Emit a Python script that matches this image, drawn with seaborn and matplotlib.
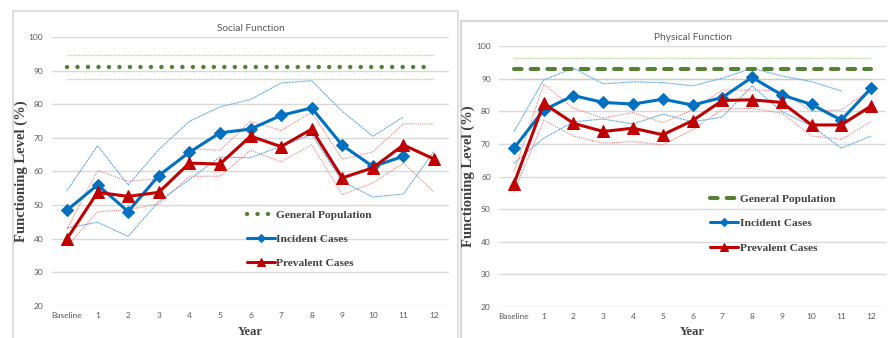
import numpy as np
import pandas as pd
import matplotlib
matplotlib.use("Agg")
import matplotlib.pyplot as plt
from matplotlib.patches import Rectangle
import seaborn as sns

# ---------------- data ----------------
years = ["Baseline", "1", "2", "3", "4", "5", "6", "7", "8", "9", "10", "11", "12"]
nan = np.nan

# Social Function
soc_gen = [91.2] * 13
soc_gen_hi = [94.6] * 13
soc_gen_lo = [87.6] * 13
soc_inc = [48.5, 56.0, 48.1, 58.8, 65.7, 71.5, 72.6, 76.7, 78.9, 67.8, 61.5, 64.5, nan]
soc_inc_hi = [54.3, 67.7, 56.0, 66.5, 74.9, 79.2, 81.4, 86.3, 87.0, 77.9, 70.5, 76.2, nan]
soc_inc_lo = [43.2, 44.9, 40.7, 51.1, 57.6, 64.3, 64.1, 67.5, 71.0, 57.1, 52.4, 53.3, 66.0]
soc_prev = [40.0, 53.8, 52.6, 53.8, 62.5, 62.2, 70.5, 67.4, 72.6, 58.1, 61.1, 67.9, 63.7]
soc_prev_hi = [42.9, 60.3, 57.1, 57.8, 66.8, 66.3, 74.9, 72.2, 77.6, 63.7, 65.8, 74.2, 74.1]
soc_prev_lo = [37.8, 48.0, 48.7, 50.3, 58.6, 58.6, 66.3, 62.9, 68.0, 53.1, 56.6, 62.5, 53.9]

# Physical Function
phy_gen = [93.0] * 13
phy_gen_hi = [96.2] * 13
phy_gen_lo = [89.9] * 13
phy_inc = [68.7, 80.4, 84.8, 82.7, 82.2, 83.7, 81.9, 84.2, 90.4, 85.0, 82.1, 77.3, 87.0]
phy_inc_hi = [73.8, 89.6, 93.2, 88.4, 89.0, 88.8, 87.8, 90.1, 93.2, 90.8, 89.1, 86.2, nan]
phy_inc_lo = [64.1, 71.7, 76.8, 77.6, 76.1, 79.1, 76.8, 78.2, 87.8, 79.9, 75.5, 68.7, 72.4]
phy_prev = [57.8, 82.4, 76.3, 73.8, 74.8, 72.8, 77.1, 83.3, 83.5, 82.7, 75.8, 75.8, 81.6]
phy_prev_hi = [61.5, 88.3, 80.9, 77.9, 79.6, 76.5, 80.4, 86.5, 86.5, 86.3, 79.9, 80.4, 86.7]
phy_prev_lo = [55.1, 77.3, 72.4, 70.2, 70.7, 69.7, 74.3, 80.6, 80.9, 79.4, 72.4, 71.4, 76.8]

titles = ["Social Function", "Physical Function"]
yticks = [20, 30, 40, 50, 60, 70, 80, 90, 100]

# ---------------- style ----------------
sns.set_style("white")
plt.rcParams["font.family"] = ["Lato", "DejaVu Sans"]

BLUE = "#0070C0"
RED = "#C00000"
GREEN = "#548235"
LBLUE = "#6aaee6"
LRED = "#f07f7f"
LGREEN = "#a9d18e"
GRID = "#d9d9d9"
TXT = "#595959"
LEG = "#404040"

W, H = 888, 338
fig = plt.figure(figsize=(W / 100, H / 100), dpi=100)

# panel frames
fig.patches.append(Rectangle((12.5 / W, -0.01), (458 - 12.5) / W, (338 - 11) / H + 0.01,
                             transform=fig.transFigure, facecolor="none",
                             edgecolor=GRID, lw=1.2, zorder=0))
fig.patches.append(Rectangle((461 / W, -0.01), 0.5, (338 - 21) / H + 0.01,
                             transform=fig.transFigure, facecolor="none",
                             edgecolor=GRID, lw=1.5, zorder=0))


def px_rect(x0, x1, ytop, ybot):
    return [x0 / W, (H - ybot) / H, (x1 - x0) / W, (ybot - ytop) / H]


ax1 = fig.add_axes(px_rect(51.7, 449.3, 37, 306))
ax2 = fig.add_axes(px_rect(499.1, 885.9, 46, 307))

panels = [
    (ax1, soc_gen, soc_gen_hi, soc_gen_lo, soc_inc, soc_inc_hi, soc_inc_lo,
     soc_prev, soc_prev_hi, soc_prev_lo, "dots"),
    (ax2, phy_gen, phy_gen_hi, phy_gen_lo, phy_inc, phy_inc_hi, phy_inc_lo,
     phy_prev, phy_prev_hi, phy_prev_lo, "dash"),
]

xs = np.arange(len(years))

for i, (ax, gen, gen_hi, gen_lo, inc, inc_hi, inc_lo, prev, prev_hi, prev_lo, gstyle) in enumerate(panels):
    ax.set_zorder(3)
    ax.patch.set_alpha(0)
    # confidence-band lines
    sns.lineplot(x=xs, y=gen_hi, ax=ax, color=LGREEN, lw=1.0, linestyle=(0, (0.6, 0.6)), zorder=2)
    sns.lineplot(x=xs, y=gen_lo, ax=ax, color=LGREEN, lw=1.0, linestyle=(0, (0.6, 0.6)), zorder=2)
    sns.lineplot(x=xs, y=inc_hi, ax=ax, color=LBLUE, lw=0.8, linestyle=(0, (2, 0.6)), zorder=2)
    sns.lineplot(x=xs, y=inc_lo, ax=ax, color=LBLUE, lw=0.8, linestyle=(0, (2, 0.6)), zorder=2)
    sns.lineplot(x=xs, y=prev_hi, ax=ax, color=LRED, lw=0.8, linestyle=(0, (1, 1)), zorder=2)
    sns.lineplot(x=xs, y=prev_lo, ax=ax, color=LRED, lw=0.8, linestyle=(0, (1, 1)), zorder=2)

    # general population
    if gstyle == "dots":
        sns.lineplot(x=xs, y=gen, ax=ax, color=GREEN, lw=3.2,
                     linestyle=(0, (0.01, 2.35)), dash_capstyle="round",
                     label="General Population", zorder=3)
    else:
        sns.lineplot(x=xs, y=gen, ax=ax, color=GREEN, lw=2.9,
                     linestyle=(0, (1.9, 2.24)), dash_capstyle="round",
                     label="General Population", zorder=3)
    # main series
    sns.lineplot(x=xs, y=inc, ax=ax, color=BLUE, lw=2.2, marker="D", markersize=6,
                 markeredgecolor=BLUE, label="Incident Cases", zorder=4)
    sns.lineplot(x=xs, y=prev, ax=ax, color=RED, lw=2.2, marker="^", markersize=8,
                 markeredgecolor=RED, label="Prevalent Cases", zorder=5)

    ax.set_xlim(-0.5, len(years) - 0.5)
    ax.set_ylim(20, 100)
    ax.set_yticks(yticks)
    ax.set_xticks(xs)
    ax.set_xticklabels(years)
    for s in ax.spines.values():
        s.set_visible(False)
    ax.yaxis.grid(True, color=GRID, lw=1.0)
    ax.xaxis.grid(False)
    ax.set_axisbelow(True)
    ax.tick_params(axis="both", length=0, labelsize=6, labelcolor=TXT)
    ax.tick_params(axis="y", pad=6)
    ax.tick_params(axis="x", pad=4)
    ax.set_xlabel("Year", family=["Liberation Serif"], fontweight="bold",
                  fontsize=9, color=LEG, labelpad=5.5 if i == 0 else 4.5)
    ax.set_ylabel("Functioning Level (%)", family=["Liberation Serif"],
                  fontweight="bold", fontsize=10.5, color=LEG, labelpad=0.5)
    ax.set_title(titles[i], fontsize=7.3, color=TXT, pad=4.5)

    h, l = ax.get_legend_handles_labels()
    if i == 0:
        anchor = (0.49, 0.357)
    else:
        anchor = (0.545, 0.432)
    leg = ax.legend(h, l, loc="upper left", bbox_to_anchor=anchor, frameon=False,
                    prop={"family": ["Liberation Serif"], "weight": "bold", "size": 8.2},
                    handlelength=2.5, handletextpad=0.1, labelspacing=1.25,
                    borderpad=0, borderaxespad=0, markerscale=0.7)
    for t in leg.get_texts():
        t.set_color(LEG)

fig.savefig("out.png", dpi=100)
